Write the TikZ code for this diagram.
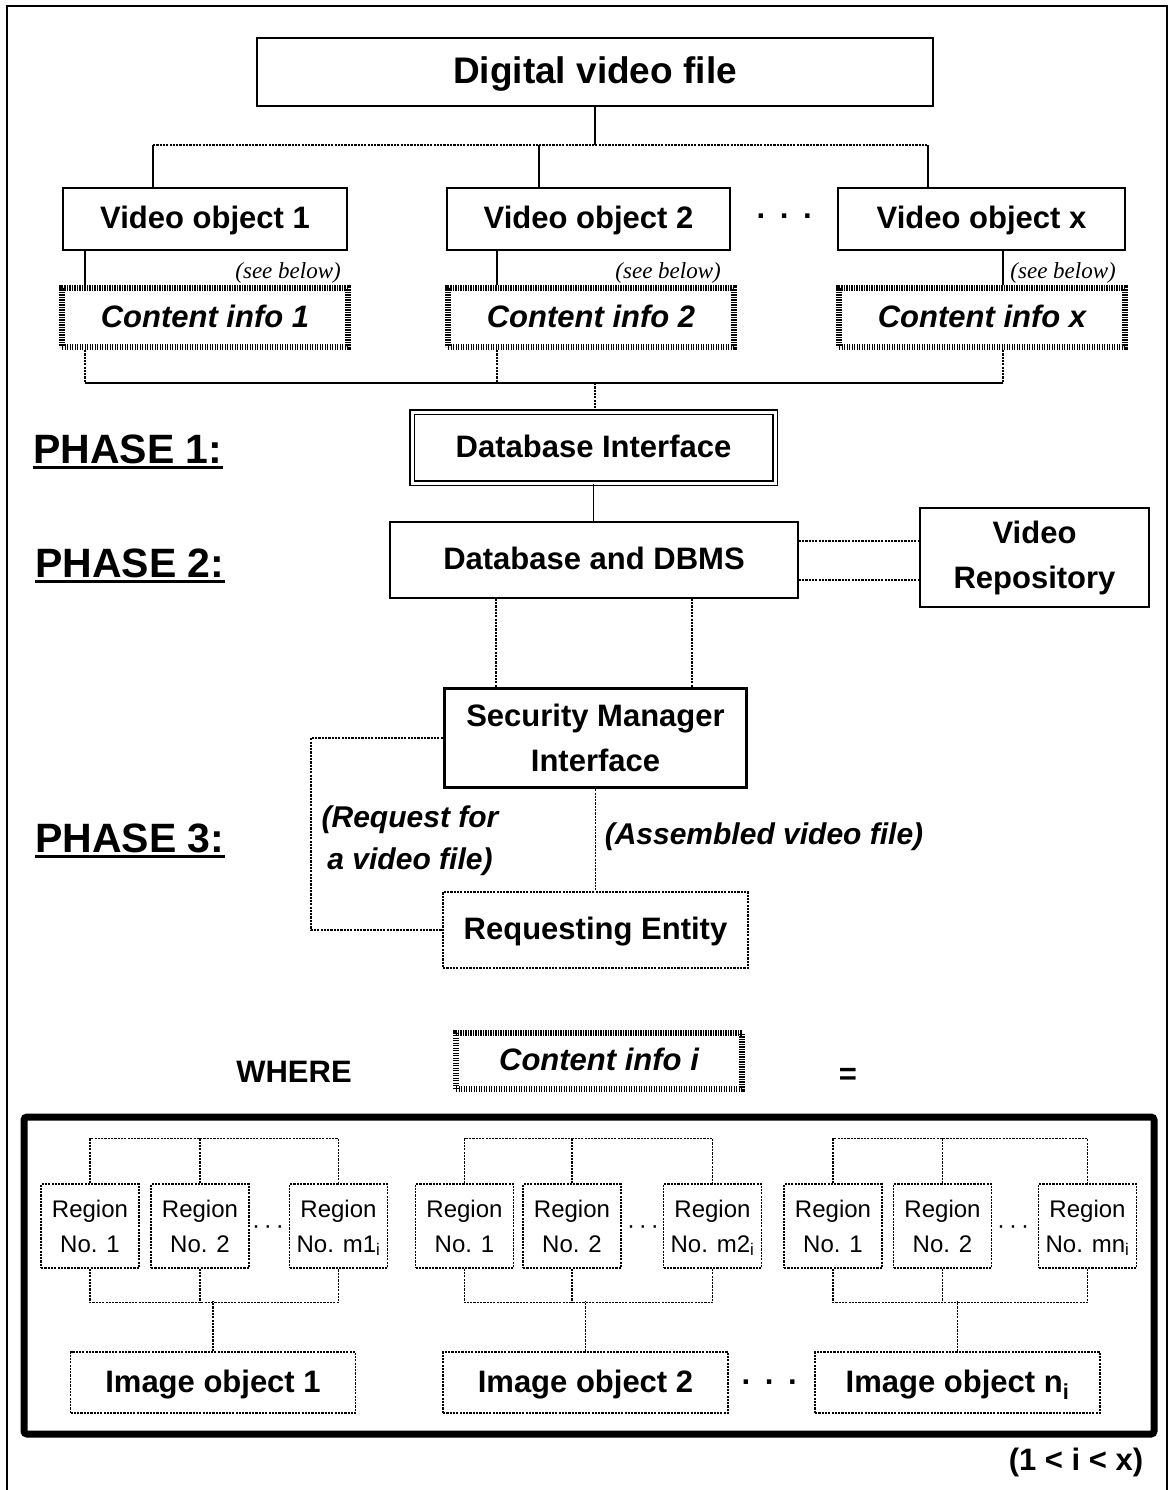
\documentclass[tikz,border=0pt]{standalone}
\usepackage{fontspec}
\setmainfont{Liberation Sans}
\newfontfamily\notefont{Liberation Serif}
\usetikzlibrary{calc}

\tikzset{
  boxnode/.style={draw, line width=1.4pt, inner sep=0pt, align=center,
    font=\bfseries\fontsize{31}{45}\selectfont},
  oneline/.style={text height=22.5pt, text depth=3pt},
  dashbox/.style={boxnode, line width=1.2pt, dash pattern=on 2.2pt off 1.1pt},
  combbox/.style={draw, line width=6pt, dash pattern=on 1.1pt off 1.4pt, inner sep=0pt,
    font=\bfseries\itshape\fontsize{31}{45}\selectfont},
  regionbox/.style={dashbox, font=\fontsize{24}{35}\selectfont, text depth=0pt,
    minimum width=98pt, minimum height=84pt},
  wire/.style={line width=1.3pt},
  link/.style={line width=1.2pt, dash pattern=on 2.2pt off 1.1pt},
  plaintext/.style={inner sep=0pt, font=\bfseries\fontsize{31}{45}\selectfont},
  phase/.style={inner sep=0pt, font=\bfseries\fontsize{41}{45}\selectfont},
  note/.style={inner sep=0pt, font=\notefont\itshape\fontsize{23}{26}\selectfont},
  remark/.style={inner sep=0pt, align=center, font=\bfseries\itshape\fontsize{30}{42}\selectfont},
  smalldots/.style={inner sep=0pt, font=\fontsize{24}{24}\selectfont}
}

\begin{document}
\begin{tikzpicture}[x=1pt, y=-1pt]
\useasboundingbox (0,0) rectangle (1171,1490);
\draw[wire] (7,1490) -- (7,6) -- (1167,6) -- (1167,1490);

% file and its video objects
\node[boxnode, font=\bfseries\fontsize{37}{45}\selectfont, text height=26.6pt, text depth=3.5pt,
  minimum width=676pt, minimum height=68pt] (dvf) at (595,72) {Digital video file};

\node[boxnode, oneline, minimum width=284pt, minimum height=62pt] (vo1) at (205,219) {Video object 1};
\node[boxnode, oneline, minimum width=283pt, minimum height=62pt] (vo2) at (588.5,219) {Video object 2};
\node[boxnode, oneline, minimum width=287pt, minimum height=62pt] (vox) at (981.5,219) {Video object x};
\node[plaintext] (vodots) at (785,220) {·\hspace{13pt}·\hspace{13pt}·};

\coordinate (hub) at (595,145);
\coordinate (b1) at (153,145);
\coordinate (b2) at (539,145);
\coordinate (bx) at (928,145);
\draw[wire] (dvf) -- (hub);
\draw[link] (b1) -- (bx);
\draw[wire] (b1) -- (b1 |- vo1.north);
\draw[wire] (b2) -- (b2 |- vo2.north);
\draw[wire] (bx) -- (bx |- vox.north);

\node[combbox, oneline, minimum width=286pt, minimum height=59pt] (ci1) at (205,317.5) {Content info 1};
\node[combbox, oneline, minimum width=286pt, minimum height=59pt] (ci2) at (591,317.5) {Content info 2};
\node[combbox, oneline, minimum width=286pt, minimum height=59pt] (cix) at (982,317.5) {Content info x};

\node[note, anchor=south east] (sb1) at ([xshift=-10pt,yshift=1pt]ci1.north east) {(see below)};
\node[note, anchor=south east] (sb2) at ([xshift=-16pt,yshift=1pt]ci2.north east) {(see below)};
\node[note, anchor=south east] (sbx) at ([xshift=-12pt,yshift=1pt]cix.north east) {(see below)};

\coordinate (j1) at (85,383);
\coordinate (j2) at (497,383);
\coordinate (jx) at (1003,383);
\coordinate (jm) at (595,383);
\draw[wire] (j1 |- vo1.south) -- (j1 |- ci1.north);
\draw[wire] (j2 |- vo2.south) -- (j2 |- ci2.north);
\draw[wire] (jx |- vox.south) -- (jx |- cix.north);
\draw[link] (j1 |- ci1.south) -- (j1);
\draw[link] (j2 |- ci2.south) -- (j2);
\draw[link] (jx |- cix.south) -- (jx);
\draw[wire] (j1) -- (jx);

% phase 1 and 2
\node[boxnode, oneline, double, double distance=3pt, line width=1.2pt,
  minimum width=363pt, minimum height=71pt] (dbi) at (593.5,447.5) {Database Interface};
\draw[link] (jm) -- (jm |- dbi.north);

\node[boxnode, oneline, minimum width=408pt, minimum height=76pt] (dbms) at (594,560) {Database and DBMS};
\draw[wire] (dbi.south) -- (dbi.south |- dbms.north);

\node[boxnode, minimum width=229pt, minimum height=99pt] (vr) at (1034.5,557.5) {Video\\Repository};
\draw[link] ($(dbms.east)+(0,-19)$) coordinate (r1) -- (r1 -| vr.west);
\draw[link] ($(dbms.east)+(0,20)$) coordinate (r2) -- (r2 -| vr.west);

% phase 3
\node[boxnode, line width=3.5pt, minimum width=302pt, minimum height=99pt] (smi) at (595.5,738) {Security Manager\\Interface};
\draw[link] ([xshift=-98pt]dbms.south) coordinate (u1) -- (u1 |- smi.north);
\draw[link] ([xshift=98pt]dbms.south) coordinate (u2) -- (u2 |- smi.north);

\node[dashbox, oneline, minimum width=305pt, minimum height=76pt] (re) at (595.5,930) {Requesting Entity};
\draw[link] (smi) -- (re);
\coordinate (back) at (311,835);
\draw[link] (smi.west) -| (back) |- (re.west);

\node[remark] (req) at (410,841) {(Request for\\a video file)};
\node[remark] (asm) at (764,837) {(Assembled video file)};

\node[phase, anchor=base west] (ph1) at (33,463) {PHASE 1:};
\node[phase, anchor=base west] (ph2) at (35,577) {PHASE 2:};
\node[phase, anchor=base west] (ph3) at (35,852) {PHASE 3:};
\foreach \p in {ph1,ph2,ph3}
  \draw[line width=3.5pt] ([yshift=-4.5pt]\p.base west) -- ([yshift=-4.5pt]\p.base east);

% what a content info holds
\node[plaintext] (where) at (294,1072) {WHERE};
\node[combbox, oneline, minimum width=286pt, minimum height=56pt] (cii) at (599,1061) {Content info i};
\node[plaintext] (eq) at (848,1076) {=};

\node[draw, line width=7pt, rounded corners=3pt, minimum width=1130pt, minimum height=317pt] (detail) at (589,1275.5) {};

\foreach \g/\a/\b/\c/\d/\o/\m/\t in {1/90/200/338.5/268/213/m1/1,
    2/464.5/572/712.5/643/585.5/m2/2,
    3/833/942.5/1087.5/1013/957.5/mn/n\textsubscript{i}} {
  \node[regionbox] (ra\g) at (\a,1226) {Region\\No. 1};
  \node[regionbox] (rb\g) at (\b,1226) {Region\\No. 2};
  \node[regionbox] (rc\g) at (\c,1226) {Region\\No. \m\textsubscript{i}};
  \node[smalldots] (rd\g) at (\d,1230) {·\hspace{4pt}·\hspace{4pt}·};
  \node[dashbox, oneline, minimum width=285pt, minimum height=61pt] (io\g) at (\o,1382.5) {Image object \t};
  \draw[link] (ra\g.north) -- ++(0,-45) -| (rc\g.north);
  \draw[link] (rb\g.north) -- ++(0,-45);
  \draw[link] (ra\g.south) -- ++(0,34) -| (rc\g.south);
  \draw[link] (rb\g.south) -- ++(0,34);
  \draw[link] (io\g.north) -- ++(0,-50);
}
\node[plaintext] (iodots) at (770,1386) {·\hspace{13pt}·\hspace{13pt}·};

\node[plaintext] (range) at (1076,1462) {(1 < i < x)};
\end{tikzpicture}
\end{document}
